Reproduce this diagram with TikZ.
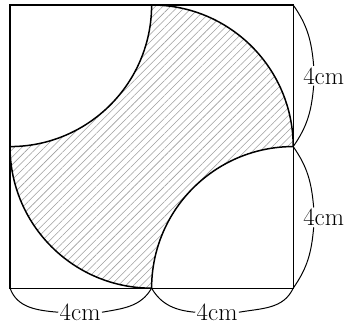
\documentclass[tikz,border=0pt]{standalone}
\usetikzlibrary{patterns.meta}
\begin{document}
\begin{tikzpicture}[x=1cm,y=1cm,
  outline/.style={line width=1pt,black},
  arcline/.style={line width=1.2pt,black},
  dimline/.style={line width=0.8pt,black},
  dimlabel/.style={font=\fontsize{20}{22}\selectfont,inner sep=1pt}]
\useasboundingbox (-0.283,-1.13) rectangle (9.633,8.141);
\coordinate (A) at (0,0);
\coordinate (B) at (4,0);
\coordinate (C) at (8,0);
\coordinate (D) at (8,4);
\coordinate (E) at (8,8);
\coordinate (F) at (4,8);
\coordinate (G) at (0,8);
\coordinate (H) at (0,4);
% hatched region
\path[pattern={Lines[angle=45,distance=4.3pt,line width=0.45pt]},pattern color=black!38]
  (F) arc[start angle=90,end angle=0,radius=4]
      arc[start angle=90,end angle=180,radius=4]
      arc[start angle=270,end angle=180,radius=4]
      arc[start angle=270,end angle=360,radius=4] -- cycle;
\draw[outline] (A) rectangle (E);
\draw[arcline] (F) arc[start angle=90,end angle=0,radius=4];
\draw[arcline] (D) arc[start angle=90,end angle=180,radius=4];
\draw[arcline] (B) arc[start angle=270,end angle=180,radius=4];
\draw[arcline] (H) arc[start angle=270,end angle=360,radius=4];
% dimensions
\node[dimlabel] (l1) at (1.98,-0.68) {4cm};
\node[dimlabel] (l2) at (5.85,-0.68) {4cm};
\node[dimlabel] (r1) at (8.86,6.0) {4cm};
\node[dimlabel] (r2) at (8.86,2.0) {4cm};
\draw[dimline] (A) to[out=-70,in=175] (l1.west);
\draw[dimline] (l1.east) to[out=10,in=-120] (B);
\draw[dimline] (B) to[out=-60,in=175] (l2.west);
\draw[dimline] (l2.east) to[out=10,in=-115] (C);
\draw[dimline] (E) to[out=-55,in=95] ([xshift=-8pt]r1.north);
\draw[dimline] ([xshift=-8pt]r1.south) to[out=-95,in=55] (D);
\draw[dimline] (D) to[out=-55,in=95] ([xshift=-8pt]r2.north);
\draw[dimline] ([xshift=-8pt]r2.south) to[out=-95,in=55] (C);
\end{tikzpicture}
\end{document}
